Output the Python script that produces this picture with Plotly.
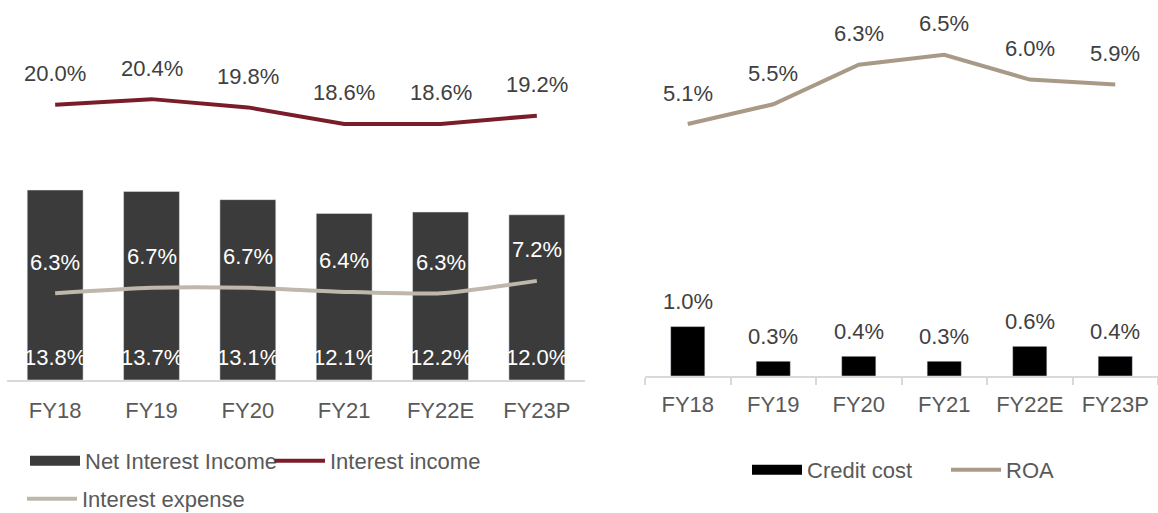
import plotly.graph_objects as go

categories = ["FY18", "FY19", "FY20", "FY21", "FY22E", "FY23P"]
net_interest_income = [13.8, 13.7, 13.1, 12.1, 12.2, 12.0]
interest_income = [20.0, 20.4, 19.8, 18.6, 18.6, 19.2]
interest_expense = [6.3, 6.7, 6.7, 6.4, 6.3, 7.2]
credit_cost = [1.0, 0.3, 0.4, 0.3, 0.6, 0.4]
roa = [5.1, 5.5, 6.3, 6.5, 6.0, 5.9]

C_NII = "#3b3b3b"
C_II = "#7b1c2a"
C_IE = "#bfb7ab"
C_CC = "#000000"
C_ROA = "#a89a87"
FONT = "Liberation Sans, Arial, sans-serif"
FS = 22

fig = go.Figure()

# Left chart
fig.add_trace(go.Bar(x=categories, y=net_interest_income, marker_color=C_NII, width=0.58,
                     showlegend=False, xaxis="x", yaxis="y"))
fig.add_trace(go.Scatter(x=[None], y=[None], mode="lines", line=dict(color=C_NII, width=12),
                         name="Net Interest Income", legend="legend", xaxis="x", yaxis="y"))
fig.add_trace(go.Scatter(x=categories, y=interest_income, mode="lines",
                         line=dict(color=C_II, width=4), name="Interest income",
                         legend="legend", xaxis="x", yaxis="y"))
fig.add_trace(go.Scatter(x=categories, y=interest_expense, mode="lines",
                         line=dict(color=C_IE, width=4, shape="spline", smoothing=0.6),
                         name="Interest expense", legend="legend2", xaxis="x", yaxis="y"))

# Right chart
fig.add_trace(go.Bar(x=categories, y=credit_cost, marker_color=C_CC, width=0.40,
                     showlegend=False, xaxis="x2", yaxis="y2"))
fig.add_trace(go.Scatter(x=[None], y=[None], mode="lines", line=dict(color=C_CC, width=12),
                         name="Credit cost", legend="legend3", xaxis="x2", yaxis="y2"))
fig.add_trace(go.Scatter(x=categories, y=roa, mode="lines", line=dict(color=C_ROA, width=4),
                         name="ROA", legend="legend3", xaxis="x2", yaxis="y2"))

annotations = []
def lab(xs, ys, xref, yref, shift, color, base=None):
    for c, v in zip(xs, ys):
        annotations.append(dict(x=c, y=(base if base is not None else v), xref=xref, yref=yref,
                                text=f"{v:.1f}%", showarrow=False, yshift=shift,
                                font=dict(family=FONT, size=FS, color=color)))

lab(categories, interest_income, "x", "y", 31, "#404040")
lab(categories, interest_expense, "x", "y", 31, "#ffffff")
lab(categories, net_interest_income, "x", "y", 23, "#ffffff", base=0)
lab(categories, credit_cost, "x2", "y2", 25, "#404040")
lab(categories, roa, "x2", "y2", 31, "#404040")

W, H = 1158, 513
axis_common = dict(showgrid=False, zeroline=False, showline=True, linecolor="#d9d9d9",
                   linewidth=1.5, tickfont=dict(family=FONT, size=FS, color="#595959"),
                   fixedrange=True)
legend_font = dict(family=FONT, size=FS, color="#595959")

fig.update_layout(
    width=W, height=H, margin=dict(l=0, r=0, t=0, b=0, autoexpand=False),
    paper_bgcolor="white", plot_bgcolor="white",
    xaxis=dict(domain=[7 / W, 585 / W], anchor="y", ticks="", ticklabelstandoff=10,
               automargin=False, **axis_common),
    yaxis=dict(domain=[133 / H, 1], range=[0, 27.6], visible=False),
    xaxis2=dict(domain=[645 / W, 1.0], anchor="y2", ticks="outside", tickson="boundaries",
                ticklen=7, tickcolor="#d9d9d9", tickwidth=1.5, ticklabelstandoff=8,
                automargin=False, **axis_common),
    yaxis2=dict(domain=[137 / H, 1], range=[0, 7.61], visible=False),
    legend=dict(orientation="h", x=25 / W, y=(H - 461) / H, xanchor="left", yanchor="middle",
                font=legend_font, itemwidth=50, entrywidth=180, bgcolor="rgba(0,0,0,0)"),
    legend2=dict(orientation="h", x=22 / W, y=(H - 499) / H, xanchor="left", yanchor="middle",
                 font=legend_font, itemwidth=50, bgcolor="rgba(0,0,0,0)"),
    legend3=dict(orientation="h", x=747 / W, y=(H - 470) / H, xanchor="left", yanchor="middle",
                 font=legend_font, itemwidth=50, entrywidth=134, bgcolor="rgba(0,0,0,0)"),
    annotations=annotations,
    showlegend=True,
)

fig.write_html("out.html", post_script="document.body.style.margin='0';",
               config={"displayModeBar": False})
